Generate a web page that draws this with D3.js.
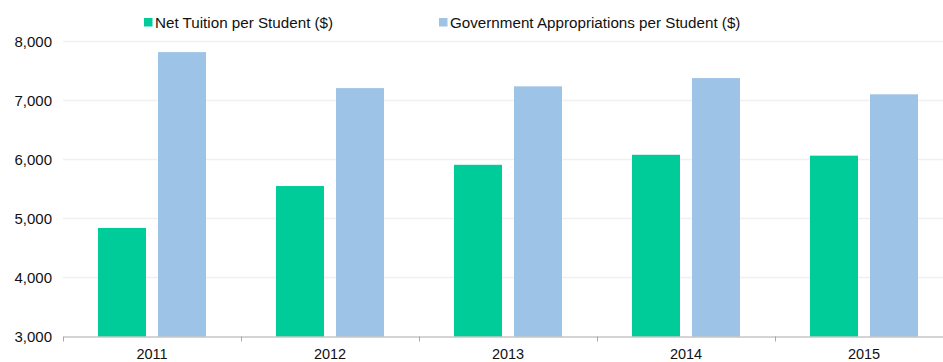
<!DOCTYPE html>
<html>
<head>
<meta charset="utf-8">
<script src="https://cdn.jsdelivr.net/npm/d3@7"></script>
<style>
  html, body { margin: 0; padding: 0; background: #fff; }
  svg { display: block; font-family: "Liberation Sans", Arial, sans-serif; }
</style>
</head>
<body>
<svg id="chart" width="943" height="362"></svg>
<script>
// Yearly figures per student
const years = ["2011", "2012", "2013", "2014", "2015"];
const netTuition = [4840, 5550, 5910, 6080, 6065];
const govAppropriations = [7820, 7210, 7240, 7380, 7105];
const seriesNames = ["Net Tuition per Student ($)", "Government Appropriations per Student ($)"];
const seriesColors = ["#00cc99", "#9dc3e6"];
const yTicks = [3000, 4000, 5000, 6000, 7000, 8000];

const svg = d3.select("#chart");
const W = 943, H = 362;
const margin = { left: 63, right: -10, top: 41.5, bottom: 25.5 };

const x = d3.scaleBand()
  .domain(years)
  .range([margin.left, W - margin.right])
  .paddingInner(0).paddingOuter(0);

const y = d3.scaleLinear()
  .domain([3000, 8000])
  .range([H - margin.bottom, margin.top]);

const groupWidth = 108;
const xs = d3.scaleBand()
  .domain([0, 1])
  .range([0, groupWidth])
  .paddingInner(0.2).paddingOuter(0);

// Horizontal gridlines
svg.append("g")
  .selectAll("line")
  .data(yTicks.filter(t => t > 3000))
  .join("line")
  .attr("x1", margin.left)
  .attr("x2", W)
  .attr("y1", d => y(d))
  .attr("y2", d => y(d))
  .attr("stroke", "#f0f0f0")
  .attr("stroke-width", 1.5);

// Y-axis labels
const yAxis = d3.axisLeft(y)
  .tickValues(yTicks)
  .tickFormat(d3.format(","))
  .tickSize(0)
  .tickPadding(11);
const yg = svg.append("g")
  .attr("transform", `translate(${margin.left},0)`)
  .call(yAxis);
yg.select(".domain").remove();
yg.selectAll("text")
  .attr("font-size", 15)
  .attr("fill", "#111")
  .attr("font-family", "Liberation Sans, Arial, sans-serif");

// Bars
const data = years.map((yr, i) => ({ year: yr, values: [netTuition[i], govAppropriations[i]] }));
const groups = svg.append("g")
  .selectAll("g")
  .data(data)
  .join("g")
  .attr("transform", d => `translate(${x(d.year) + x.bandwidth() / 2 - groupWidth / 2},0)`);

groups.selectAll("rect")
  .data(d => d.values.map((v, k) => ({ k, v })))
  .join("rect")
  .attr("x", d => xs(d.k))
  .attr("width", xs.bandwidth())
  .attr("y", d => y(d.v))
  .attr("height", d => y(3000) - y(d.v))
  .attr("fill", d => seriesColors[d.k]);

// X axis: baseline with ticks between categories
const xAxis = d3.axisBottom(x).tickSize(0).tickPadding(12);
const xg = svg.append("g")
  .attr("transform", `translate(0,${y(3000)})`)
  .call(xAxis);
xg.select(".domain").attr("stroke", "#aaaaaa").attr("stroke-width", 1);
xg.selectAll("text")
  .attr("font-size", 14.5)
  .attr("fill", "#111")
  .attr("font-family", "Liberation Sans, Arial, sans-serif");

svg.append("g")
  .selectAll("line")
  .data(years)
  .join("line")
  .attr("x1", d => Math.round(x(d)) + 0.5)
  .attr("x2", d => Math.round(x(d)) + 0.5)
  .attr("y1", y(3000))
  .attr("y2", y(3000) + 5)
  .attr("stroke", "#aaaaaa");

// Legend
const legendX = [144, 439];
const legend = svg.append("g")
  .selectAll("g")
  .data(seriesNames)
  .join("g")
  .attr("transform", (d, i) => `translate(${legendX[i]},22.5)`);
legend.append("rect")
  .attr("x", 0).attr("y", -4.5)
  .attr("width", 8.5).attr("height", 8.5)
  .attr("fill", (d, i) => seriesColors[i]);
legend.append("text")
  .attr("x", 11)
  .attr("y", 0)
  .attr("dy", "0.35em")
  .attr("font-size", 15.2)
  .attr("fill", "#111")
  .text(d => d);
</script>
</body>
</html>
